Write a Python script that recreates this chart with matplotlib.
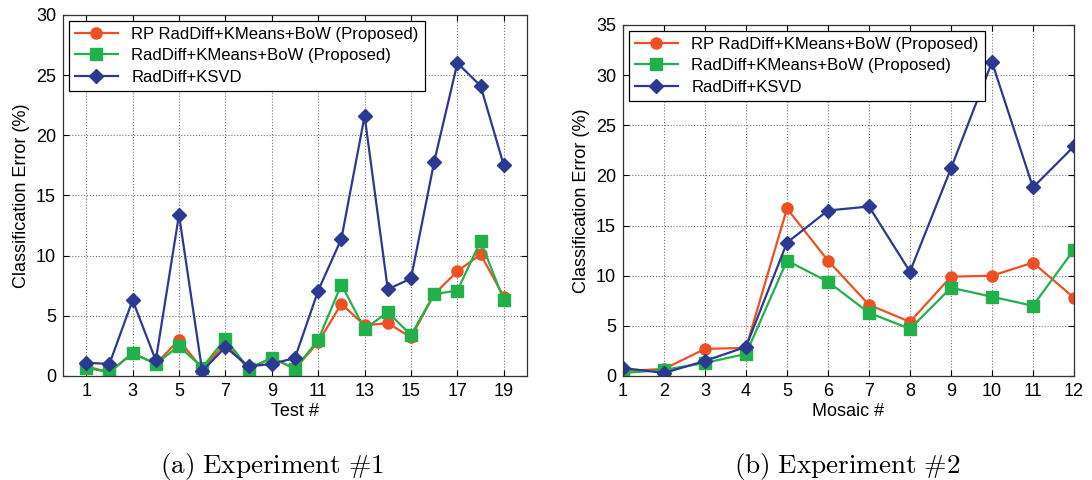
import matplotlib
matplotlib.use("Agg")
import matplotlib.pyplot as plt
import numpy as np

plt.rcParams['font.family'] = ['Liberation Sans', 'DejaVu Sans']
plt.rcParams['mathtext.fontset'] = 'cm'

# Experiment 1: classification error per test
tests = list(range(1, 20))
rp_exp1 = [0.8, 0.3, 1.9, 1.0, 3.0, 0.6, 2.7, 0.6, 1.5, 0.6, 2.8, 6.0, 4.2, 4.4, 3.2, 6.8, 8.7, 10.1, 6.6]
bow_exp1 = [0.7, 0.3, 1.9, 1.0, 2.5, 0.7, 3.1, 0.6, 1.5, 0.6, 3.0, 7.6, 3.9, 5.3, 3.4, 6.8, 7.1, 11.2, 6.3]
ksvd_exp1 = [1.1, 1.0, 6.3, 1.3, 13.4, 0.4, 2.4, 0.8, 1.0, 1.5, 7.1, 11.4, 21.6, 7.2, 8.1, 17.8, 26.0, 24.1, 17.5]

# Experiment 2: classification error per mosaic
mosaics = list(range(1, 13))
rp_exp2 = [0.5, 0.7, 2.7, 2.8, 16.7, 11.5, 7.1, 5.4, 9.9, 10.0, 11.3, 7.8]
bow_exp2 = [0.3, 0.6, 1.3, 2.2, 11.5, 9.4, 6.3, 4.7, 8.8, 7.9, 7.0, 12.6]
ksvd_exp2 = [0.8, 0.3, 1.5, 2.9, 13.3, 16.5, 16.9, 10.4, 20.7, 31.3, 18.8, 22.9]

labels = ["RP RadDiff+KMeans+BoW (Proposed)",
          "RadDiff+KMeans+BoW (Proposed)",
          "RadDiff+KSVD"]
red, green, blue = "#EF5023", "#22B04B", "#2B3990"


def draw_panel(ax, x, series, xlabel):
    styles = [(red, 'o'), (green, 's'), (blue, 'D')]
    for (c, m), y, lab in zip(styles, series, labels):
        ax.plot(x, y, color=c, marker=m, markersize=8 if m != 'D' else 7.5,
                lw=1.6, label=lab, markeredgecolor=c)
    ax.grid(True, linestyle=':', color='0.45', lw=0.8)
    ax.tick_params(direction='in', top=True, right=True, labelsize=13,
                   length=4, width=0.8, pad=5)
    for s in ax.spines.values():
        s.set_linewidth(0.9)
        s.set_color('0.2')
    ax.set_xlabel(xlabel, fontsize=13, labelpad=2)
    ax.set_ylabel("Classification Error (%)", fontsize=13)
    leg = ax.legend(loc='upper left', fontsize=12, fancybox=False,
                    framealpha=1, edgecolor='black', handlelength=2.6,
                    borderaxespad=0.35, labelspacing=0.4, borderpad=0.35)
    leg.get_frame().set_linewidth(0.9)


fig = plt.figure(figsize=(10.92, 4.8), dpi=100)
ax1 = fig.add_axes([0.0577, 0.2167, 0.4249, 0.7523])
ax2 = fig.add_axes([0.5705, 0.2167, 0.4130, 0.7313])

draw_panel(ax1, tests, [rp_exp1, bow_exp1, ksvd_exp1], "Test #")
ax1.set_xlim(0, 20)
ax1.set_ylim(0, 30)
ax1.set_xticks(range(1, 20, 2))
ax1.set_yticks(range(0, 31, 5))

draw_panel(ax2, mosaics, [rp_exp2, bow_exp2, ksvd_exp2], "Mosaic #")
ax2.set_xlim(1, 12)
ax2.set_ylim(0, 35)
ax2.set_xticks(mosaics)
ax2.set_yticks(range(0, 36, 5))

# sub-figure captions
fig.text(0.249, 0.028, r"$\mathrm{(a)\ Experiment\ \#1}$", ha='center',
         va='center', fontsize=19.5)
fig.text(0.776, 0.028, r"$\mathrm{(b)\ Experiment\ \#2}$", ha='center',
         va='center', fontsize=19.5)

fig.savefig("out.png", dpi=100)
